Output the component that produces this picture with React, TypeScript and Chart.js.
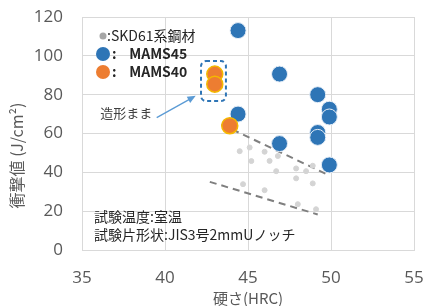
import React, { useEffect, useRef } from "react";
import { Chart, registerables } from "chart.js";

Chart.register(...registerables);

// SKD61系鋼材 (gray small points)
const skd61X = [44.5, 45.1, 45.2, 46.0, 46.3, 46.8, 46.7, 47.9, 47.9, 48.5, 48.9, 48.9, 44.7, 46.0, 48.0, 49.1];
const skd61Y = [50.9, 52.8, 45.8, 50.6, 45.9, 48.4, 40.6, 42.0, 36.9, 40.6, 43.4, 34.3, 33.9, 30.8, 23.6, 21.0];

// MAMS45 (blue)
const mams45X = [44.4, 46.9, 49.2, 49.9, 49.9, 44.4, 49.2, 49.2, 46.9, 49.9];
const mams45Y = [113, 90.6, 80, 72.5, 68.5, 70, 60.5, 58, 54.8, 43.8];

// MAMS40 (orange)
const mams40X = [43.0, 43.0, 43.9];
const mams40Y = [90.6, 85.4, 64];

// Dashed trend lines
const upperLineX = [43.4, 49.9];
const upperLineY = [64.7, 38.4];
const lowerLineX = [42.7, 49.2];
const lowerLineY = [35.1, 18.3];

// Annotation: dashed box around as-built points, arrow, label (data coords)
const boxX = [42.17, 43.67];
const boxY = [97.3, 76.7];
const arrowX = [39.5, 41.85];
const arrowY = [68.2, 79.4];
const asBuiltLabel = "造形まま";
const asBuiltLabelPos = [36.1, 70.4];

const xTicks = [35, 40, 45, 50, 55];
const yTicks = [0, 20, 40, 60, 80, 100, 120];

const legendLabels = [":SKD61系鋼材", ":    MAMS45", ":    MAMS40"];
const noteLines = ["試験温度:室温", "試験片形状:JIS3号2mmUノッチ"];
const xTitle = "硬さ(HRC)";
const yTitle = "衝撃値 (J/cm²)";

const toPts = (xs: number[], ys: number[]) => xs.map((x, i) => ({ x, y: ys[i] }));

const BLUE = "#2e75b6";
const ORANGE = "#ed7d31";
const GRAY = "#d4d4d4";
const JP = '"Noto Sans CJK JP", "Noto Sans", sans-serif';

const decorPlugin = {
  id: "decor",
  afterDatasetsDraw(chart: any) {
    const { ctx, chartArea, scales } = chart;
    const xs = scales.x;
    const ys = scales.y;
    ctx.save();

    // dashed rounded box
    const bx1 = xs.getPixelForValue(boxX[0]);
    const bx2 = xs.getPixelForValue(boxX[1]);
    const by1 = ys.getPixelForValue(boxY[0]);
    const by2 = ys.getPixelForValue(boxY[1]);
    ctx.strokeStyle = BLUE;
    ctx.lineWidth = 2;
    ctx.setLineDash([4, 3]);
    ctx.beginPath();
    (ctx as any).roundRect(bx1, by1, bx2 - bx1, by2 - by1, 5);
    ctx.stroke();
    ctx.setLineDash([]);

    // arrow
    const ax1 = xs.getPixelForValue(arrowX[0]);
    const ay1 = ys.getPixelForValue(arrowY[0]);
    const ax2 = xs.getPixelForValue(arrowX[1]);
    const ay2 = ys.getPixelForValue(arrowY[1]);
    const ang = Math.atan2(ay2 - ay1, ax2 - ax1);
    const head = 9;
    ctx.strokeStyle = "#5b9bd5";
    ctx.fillStyle = "#5b9bd5";
    ctx.lineWidth = 1.3;
    ctx.beginPath();
    ctx.moveTo(ax1, ay1);
    ctx.lineTo(ax2 - Math.cos(ang) * head * 0.8, ay2 - Math.sin(ang) * head * 0.8);
    ctx.stroke();
    ctx.beginPath();
    ctx.moveTo(ax2, ay2);
    ctx.lineTo(ax2 - head * Math.cos(ang - 0.4), ay2 - head * Math.sin(ang - 0.4));
    ctx.lineTo(ax2 - head * Math.cos(ang + 0.4), ay2 - head * Math.sin(ang + 0.4));
    ctx.closePath();
    ctx.fill();

    // label
    ctx.fillStyle = "#404040";
    ctx.font = `13px ${JP}`;
    ctx.textBaseline = "middle";
    ctx.textAlign = "left";
    ctx.fillText(asBuiltLabel, xs.getPixelForValue(asBuiltLabelPos[0]), ys.getPixelForValue(asBuiltLabelPos[1]));

    // legend
    const lx = chartArea.left + 21;
    const ly = chartArea.top + 19;
    ctx.font = `14px ${JP}`;
    ctx.fillStyle = "#a6a6a6";
    ctx.beginPath();
    ctx.arc(lx, ly, 3.5, 0, Math.PI * 2);
    ctx.fill();
    ctx.fillStyle = "#262626";
    ctx.fillText(legendLabels[0], lx + 4, ly);
    const colors = [BLUE, ORANGE];
    for (let i = 0; i < 2; i++) {
      const yy = ly + 18 * (i + 1);
      ctx.fillStyle = colors[i];
      ctx.beginPath();
      ctx.arc(lx, yy, 7, 0, Math.PI * 2);
      ctx.fill();
      ctx.fillStyle = "#262626";
      ctx.font = `600 14px ${JP}`;
      ctx.fillText(legendLabels[i + 1], lx + 9, yy);
    }

    // notes
    ctx.font = `14px ${JP}`;
    ctx.fillStyle = "#262626";
    noteLines.forEach((t, i) => {
      ctx.fillText(t, chartArea.left + 12, chartArea.bottom - 33 + i * 18);
    });

    // y title
    ctx.save();
    ctx.translate(17, (chartArea.top + chartArea.bottom) / 2 + 22);
    ctx.rotate(-Math.PI / 2);
    ctx.textAlign = "center";
    ctx.fillStyle = "#595959";
    ctx.font = `16px ${JP}`;
    ctx.fillText(yTitle, 0, 0);
    ctx.restore();

    ctx.restore();
  },
};

export default function App() {
  const ref = useRef<HTMLCanvasElement>(null);
  useEffect(() => {
    if (!ref.current) return;
    const chart = new Chart(ref.current, {
      type: "scatter",
      data: {
        datasets: [
          {
            label: "upper",
            type: "line",
            data: toPts(upperLineX, upperLineY),
            borderColor: "#7f7f7f",
            borderWidth: 2,
            borderDash: [7, 5],
            pointRadius: 0,
            showLine: true,
            order: 4,
          } as any,
          {
            label: "lower",
            type: "line",
            data: toPts(lowerLineX, lowerLineY),
            borderColor: "#7f7f7f",
            borderWidth: 2,
            borderDash: [7, 5],
            pointRadius: 0,
            showLine: true,
            order: 4,
          } as any,
          {
            label: "SKD61系鋼材",
            data: toPts(skd61X, skd61Y),
            backgroundColor: GRAY,
            borderColor: GRAY,
            pointRadius: 2.5,
            order: 3,
          },
          {
            label: "MAMS45",
            data: toPts(mams45X, mams45Y),
            backgroundColor: BLUE,
            borderColor: "#e6eef7",
            borderWidth: 1,
            pointRadius: 8,
            order: 2,
          },
          {
            label: "MAMS40",
            data: toPts(mams40X, mams40Y),
            backgroundColor: ORANGE,
            borderColor: "#f5b800",
            borderWidth: 1.5,
            pointRadius: 8,
            order: 1,
          },
        ],
      },
      options: {
        animation: false,
        responsive: false,
        maintainAspectRatio: false,
        layout: { padding: { top: 17, right: 10, left: 0, bottom: 0 } },
        plugins: { legend: { display: false }, tooltip: { enabled: false } },
        scales: {
          x: {
            type: "linear",
            min: 35,
            max: 55,
            afterBuildTicks: (s: any) => {
              s.ticks = xTicks.map((v) => ({ value: v }));
            },
            afterFit: (s: any) => {
              s.height = 56;
              s.paddingLeft = 0;
              s.paddingRight = 0;
            },
            ticks: { color: "#595959", font: { size: 17, family: '"Open Sans", sans-serif' }, padding: 18 },
            grid: { color: "#d9d9d9", lineWidth: 1, drawTicks: false },
            border: { color: "#d9d9d9" },
            title: {
              display: true,
              text: xTitle,
              color: "#595959",
              font: { size: 15, family: JP },
              padding: { top: 0, bottom: -1 },
            },
          },
          y: {
            type: "linear",
            min: 0,
            max: 120,
            afterBuildTicks: (s: any) => {
              s.ticks = yTicks.map((v) => ({ value: v }));
            },
            afterFit: (s: any) => {
              s.width = 82;
              s.paddingTop = 0;
              s.paddingBottom = 0;
            },
            ticks: { color: "#595959", font: { size: 17, family: '"Open Sans", sans-serif' }, padding: 19 },
            grid: { color: "#d9d9d9", lineWidth: 1, drawTicks: false },
            border: { color: "#d9d9d9" },
          },
        },
      },
      plugins: [decorPlugin],
    });
    return () => chart.destroy();
  }, []);
  return (
    <div style={{ position: "fixed", left: 0, top: 0, width: 424, height: 306, background: "#fff" }}>
      <canvas ref={ref} width={424} height={306} style={{ width: 424, height: 306 }} />
    </div>
  );
}
